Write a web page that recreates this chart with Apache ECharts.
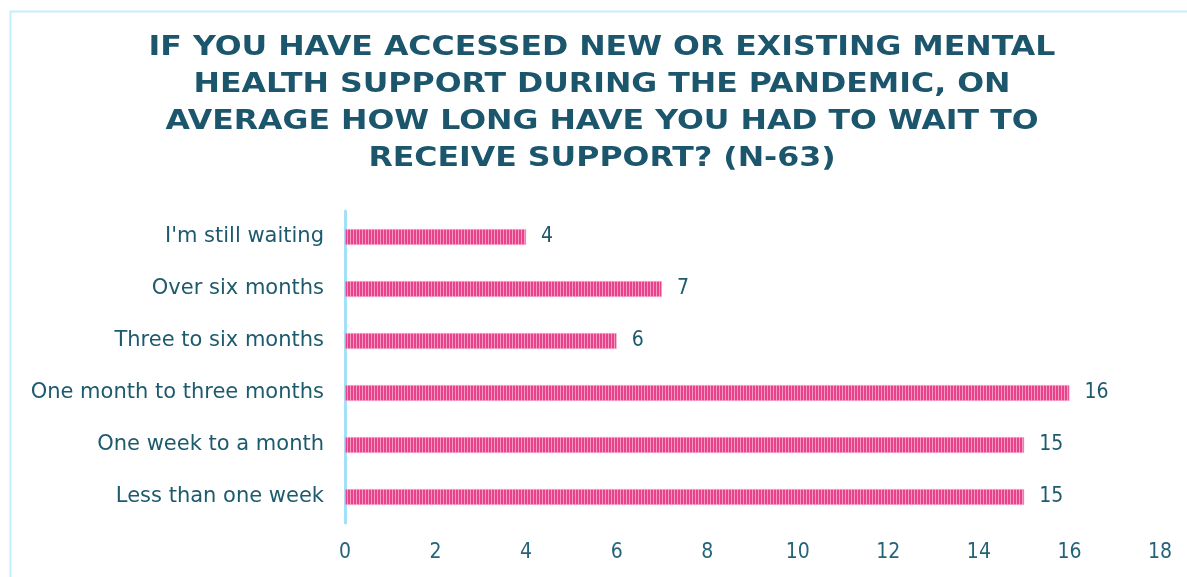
<!DOCTYPE html>
<html>
<head>
<meta charset="utf-8">
<script src="https://cdn.jsdelivr.net/npm/echarts@6/dist/echarts.min.js"></script>
<style>
  html, body { margin: 0; padding: 0; background: #ffffff; }
  #chart { width: 1187px; height: 577px; }
</style>
</head>
<body>
<div id="chart"></div>
<script>
// Survey answers, listed bottom-to-top as drawn on the category axis
const categories = [
  'Less than one week',
  'One week to a month',
  'One month to three months',
  'Three to six months',
  'Over six months',
  "I'm still waiting"
];
const respondents = [15, 15, 16, 6, 7, 4];
const titleLines = [
  'IF YOU HAVE ACCESSED NEW OR EXISTING MENTAL',
  'HEALTH SUPPORT DURING THE PANDEMIC, ON',
  'AVERAGE HOW LONG HAVE YOU HAD TO WAIT TO',
  'RECEIVE SUPPORT? (N-63)'
];
const xTicks = { min: 0, max: 18, step: 2 };

const TEXT = '#1d5a6e';

// Vertical pin-stripe fill for the bars
function stripeFill() {
  const c = document.createElement('canvas');
  c.width = 3; c.height = 4;
  const g = c.getContext('2d');
  g.fillStyle = '#e8438a';
  g.fillRect(0, 0, 3, 4);
  g.fillStyle = '#f49ac2';
  g.fillRect(2, 0, 1, 4);
  return { image: c, repeat: 'repeat' };
}

const chart = echarts.init(document.getElementById('chart'), null, { renderer: 'canvas' });

chart.setOption({
  backgroundColor: '#ffffff',
  animation: false,
  grid: { left: 345, right: 27, top: 211, bottom: 54, containLabel: false },
  xAxis: {
    type: 'value',
    min: xTicks.min,
    max: xTicks.max,
    interval: xTicks.step,
    axisLine: { show: false },
    axisTick: { show: false },
    splitLine: { show: false },
    axisLabel: {
      color: '#24647a',
      fontFamily: 'DejaVu Sans Condensed',
      fontSize: 21,
      margin: 19
    }
  },
  yAxis: {
    type: 'category',
    data: categories,
    axisLine: { show: true, lineStyle: { color: '#a3e2f6', width: 3 } },
    axisTick: { show: false },
    splitLine: { show: false },
    axisLabel: {
      color: TEXT,
      fontFamily: 'DejaVu Sans',
      fontSize: 21,
      margin: 21
    }
  },
  series: [{
    type: 'bar',
    data: respondents,
    barWidth: 16,
    itemStyle: {
      color: stripeFill(),
      borderColor: '#f7b6d3',
      borderWidth: 0.6
    },
    label: {
      show: true,
      position: 'right',
      distance: 15,
      color: TEXT,
      fontFamily: 'DejaVu Sans Condensed',
      fontSize: 21
    }
  }],
  graphic: [
    {
      type: 'rect',
      left: 8, top: 9,
      shape: { width: 1240, height: 640 },
      style: { fill: 'none', stroke: '#c3eefb', lineWidth: 2 },
      silent: true
    },
    {
      type: 'text',
      x: 602, y: 29,
      scaleX: 1.17,
      style: {
        text: titleLines.join('\n'),
        align: 'center',
        verticalAlign: 'top',
        fill: '#1b566c',
        font: 'bold 27px "DejaVu Sans"',
        lineHeight: 37
      }
    }
  ]
});
</script>
</body>
</html>
